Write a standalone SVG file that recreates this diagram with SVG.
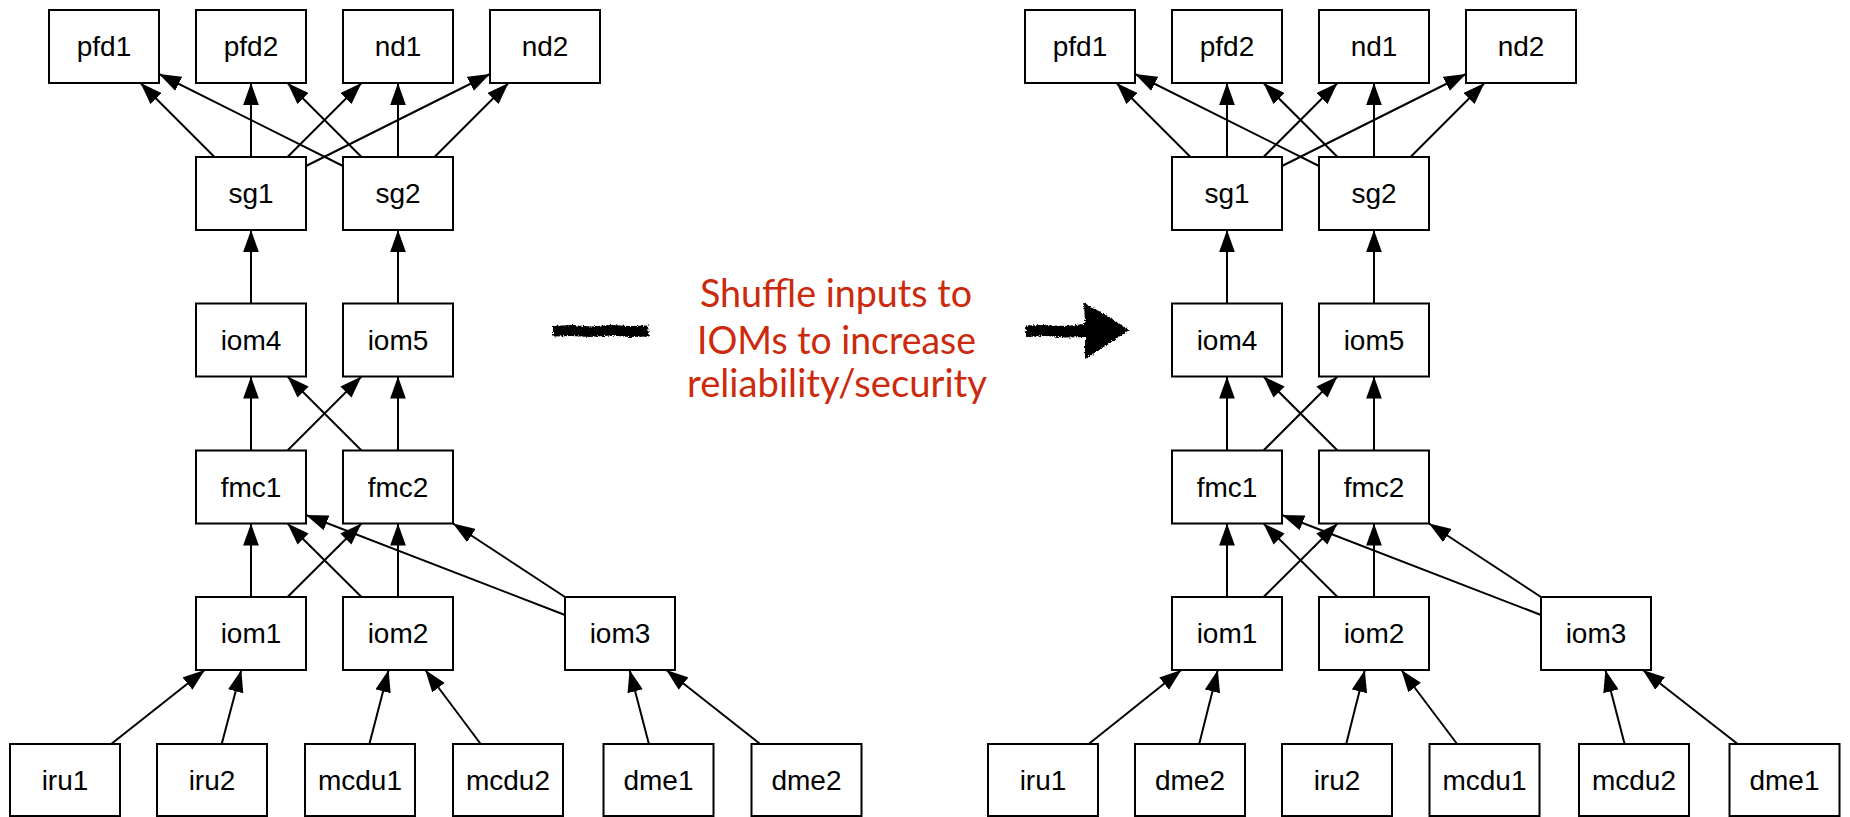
<svg xmlns="http://www.w3.org/2000/svg" width="1850" height="817" viewBox="0 0 1850 817">
<style>
.box{fill:#fff;stroke:#000;stroke-width:2}
.lbl{font-family:"Liberation Sans",Arial,Helvetica,sans-serif;font-size:28px;fill:#000;text-anchor:middle}
.e{stroke:#000;stroke-width:2;fill:none;marker-end:url(#ah)}
.note{font-family:Lato,"Open Sans",sans-serif;font-size:38px;fill:#CC2A0C;text-anchor:middle}
.scr{fill:#000;filter:url(#rough)}
</style>
<defs>
<marker id="ah" markerUnits="userSpaceOnUse" markerWidth="22" markerHeight="16" viewBox="0 0 21 15" refX="21" refY="7.5" orient="auto">
<path d="M0,0 L21,7.5 L0,15 z" fill="#000"/>
</marker>
<filter id="rough" x="-10%" y="-30%" width="120%" height="160%">
<feTurbulence type="fractalNoise" baseFrequency="0.6" numOctaves="2" seed="3" result="n"/>
<feDisplacementMap in="SourceGraphic" in2="n" scale="4" xChannelSelector="R" yChannelSelector="G"/>
</filter>
</defs>
<rect width="1850" height="817" fill="#fff"/>

<g id="connectors">
<!-- left -->
<line class="e" x1="214.5" y1="157" x2="140.5" y2="83"/>
<line class="e" x1="251" y1="157" x2="251" y2="83"/>
<line class="e" x1="287.5" y1="157" x2="361.5" y2="83"/>
<line class="e" x1="306" y1="166" x2="490" y2="74"/>
<line class="e" x1="343" y1="166" x2="159" y2="74"/>
<line class="e" x1="361.5" y1="157" x2="287.5" y2="83"/>
<line class="e" x1="398" y1="157" x2="398" y2="83"/>
<line class="e" x1="434.5" y1="157" x2="508.5" y2="83"/>
<line class="e" x1="251" y1="303.5" x2="251" y2="230"/>
<line class="e" x1="398" y1="303.5" x2="398" y2="230"/>
<line class="e" x1="251" y1="450.5" x2="251" y2="376.5"/>
<line class="e" x1="287.5" y1="450.5" x2="361.5" y2="376.5"/>
<line class="e" x1="361.5" y1="450.5" x2="287.5" y2="376.5"/>
<line class="e" x1="398" y1="450.5" x2="398" y2="376.5"/>
<line class="e" x1="251" y1="597" x2="251" y2="523.5"/>
<line class="e" x1="287.5" y1="597" x2="361.5" y2="523.5"/>
<line class="e" x1="361.5" y1="597" x2="287.5" y2="523.5"/>
<line class="e" x1="398" y1="597" x2="398" y2="523.5"/>
<line class="e" x1="565" y1="615" x2="306" y2="515"/>
<line class="e" x1="565" y1="597" x2="453" y2="523.5"/>
<line class="e" x1="111.2" y1="744" x2="204.8" y2="670"/>
<line class="e" x1="221.7" y1="744" x2="241.3" y2="670"/>
<line class="e" x1="369.4" y1="744" x2="388.6" y2="670"/>
<line class="e" x1="480.7" y1="744" x2="425.3" y2="670"/>
<line class="e" x1="648.9" y1="744" x2="629.6" y2="670"/>
<line class="e" x1="760.2" y1="744" x2="666.3" y2="670"/>
<!-- right -->
<line class="e" x1="1190.5" y1="157" x2="1116.5" y2="83"/>
<line class="e" x1="1227" y1="157" x2="1227" y2="83"/>
<line class="e" x1="1263.5" y1="157" x2="1337.5" y2="83"/>
<line class="e" x1="1282" y1="166" x2="1466" y2="74"/>
<line class="e" x1="1319" y1="166" x2="1135" y2="74"/>
<line class="e" x1="1337.5" y1="157" x2="1263.5" y2="83"/>
<line class="e" x1="1374" y1="157" x2="1374" y2="83"/>
<line class="e" x1="1410.5" y1="157" x2="1484.5" y2="83"/>
<line class="e" x1="1227" y1="303.5" x2="1227" y2="230"/>
<line class="e" x1="1374" y1="303.5" x2="1374" y2="230"/>
<line class="e" x1="1227" y1="450.5" x2="1227" y2="376.5"/>
<line class="e" x1="1263.5" y1="450.5" x2="1337.5" y2="376.5"/>
<line class="e" x1="1337.5" y1="450.5" x2="1263.5" y2="376.5"/>
<line class="e" x1="1374" y1="450.5" x2="1374" y2="376.5"/>
<line class="e" x1="1227" y1="597" x2="1227" y2="523.5"/>
<line class="e" x1="1263.5" y1="597" x2="1337.5" y2="523.5"/>
<line class="e" x1="1337.5" y1="597" x2="1263.5" y2="523.5"/>
<line class="e" x1="1374" y1="597" x2="1374" y2="523.5"/>
<line class="e" x1="1541" y1="615" x2="1282" y2="515"/>
<line class="e" x1="1541" y1="597" x2="1429" y2="523.5"/>
<line class="e" x1="1088.7" y1="744" x2="1181.3" y2="670"/>
<line class="e" x1="1199.2" y1="744" x2="1217.8" y2="670"/>
<line class="e" x1="1346.2" y1="744" x2="1364.8" y2="670"/>
<line class="e" x1="1457.1" y1="744" x2="1401.4" y2="670"/>
<line class="e" x1="1624.6" y1="744" x2="1605.4" y2="670"/>
<line class="e" x1="1737.7" y1="744" x2="1642.8" y2="670"/>
</g>

<!-- left nodes -->
<g id="L_pfd1"><rect class="box" x="49" y="10" width="110" height="73"/><text class="lbl" x="104" y="56">pfd1</text></g>
<g id="L_pfd2"><rect class="box" x="196" y="10" width="110" height="73"/><text class="lbl" x="251" y="56">pfd2</text></g>
<g id="L_nd1"><rect class="box" x="343" y="10" width="110" height="73"/><text class="lbl" x="398" y="56">nd1</text></g>
<g id="L_nd2"><rect class="box" x="490" y="10" width="110" height="73"/><text class="lbl" x="545" y="56">nd2</text></g>
<g id="L_sg1"><rect class="box" x="196" y="157" width="110" height="73"/><text class="lbl" x="251" y="203">sg1</text></g>
<g id="L_sg2"><rect class="box" x="343" y="157" width="110" height="73"/><text class="lbl" x="398" y="203">sg2</text></g>
<g id="L_iom4"><rect class="box" x="196" y="303.5" width="110" height="73"/><text class="lbl" x="251" y="349.5">iom4</text></g>
<g id="L_iom5"><rect class="box" x="343" y="303.5" width="110" height="73"/><text class="lbl" x="398" y="349.5">iom5</text></g>
<g id="L_fmc1"><rect class="box" x="196" y="450.5" width="110" height="73"/><text class="lbl" x="251" y="496.5">fmc1</text></g>
<g id="L_fmc2"><rect class="box" x="343" y="450.5" width="110" height="73"/><text class="lbl" x="398" y="496.5">fmc2</text></g>
<g id="L_iom1"><rect class="box" x="196" y="597" width="110" height="73"/><text class="lbl" x="251" y="643">iom1</text></g>
<g id="L_iom2"><rect class="box" x="343" y="597" width="110" height="73"/><text class="lbl" x="398" y="643">iom2</text></g>
<g id="L_iom3"><rect class="box" x="565" y="597" width="110" height="73"/><text class="lbl" x="620" y="643">iom3</text></g>
<g id="L_iru1"><rect class="box" x="10" y="744" width="110" height="72"/><text class="lbl" x="65" y="790">iru1</text></g>
<g id="L_iru2"><rect class="box" x="157" y="744" width="110" height="72"/><text class="lbl" x="212" y="790">iru2</text></g>
<g id="L_mcdu1"><rect class="box" x="305" y="744" width="110" height="72"/><text class="lbl" x="360" y="790">mcdu1</text></g>
<g id="L_mcdu2"><rect class="box" x="453" y="744" width="110" height="72"/><text class="lbl" x="508" y="790">mcdu2</text></g>
<g id="L_dme1"><rect class="box" x="603.5" y="744" width="110" height="72"/><text class="lbl" x="658.5" y="790">dme1</text></g>
<g id="L_dme2"><rect class="box" x="751.5" y="744" width="110" height="72"/><text class="lbl" x="806.5" y="790">dme2</text></g>

<!-- right nodes -->
<g id="R_pfd1"><rect class="box" x="1025" y="10" width="110" height="73"/><text class="lbl" x="1080" y="56">pfd1</text></g>
<g id="R_pfd2"><rect class="box" x="1172" y="10" width="110" height="73"/><text class="lbl" x="1227" y="56">pfd2</text></g>
<g id="R_nd1"><rect class="box" x="1319" y="10" width="110" height="73"/><text class="lbl" x="1374" y="56">nd1</text></g>
<g id="R_nd2"><rect class="box" x="1466" y="10" width="110" height="73"/><text class="lbl" x="1521" y="56">nd2</text></g>
<g id="R_sg1"><rect class="box" x="1172" y="157" width="110" height="73"/><text class="lbl" x="1227" y="203">sg1</text></g>
<g id="R_sg2"><rect class="box" x="1319" y="157" width="110" height="73"/><text class="lbl" x="1374" y="203">sg2</text></g>
<g id="R_iom4"><rect class="box" x="1172" y="303.5" width="110" height="73"/><text class="lbl" x="1227" y="349.5">iom4</text></g>
<g id="R_iom5"><rect class="box" x="1319" y="303.5" width="110" height="73"/><text class="lbl" x="1374" y="349.5">iom5</text></g>
<g id="R_fmc1"><rect class="box" x="1172" y="450.5" width="110" height="73"/><text class="lbl" x="1227" y="496.5">fmc1</text></g>
<g id="R_fmc2"><rect class="box" x="1319" y="450.5" width="110" height="73"/><text class="lbl" x="1374" y="496.5">fmc2</text></g>
<g id="R_iom1"><rect class="box" x="1172" y="597" width="110" height="73"/><text class="lbl" x="1227" y="643">iom1</text></g>
<g id="R_iom2"><rect class="box" x="1319" y="597" width="110" height="73"/><text class="lbl" x="1374" y="643">iom2</text></g>
<g id="R_iom3"><rect class="box" x="1541" y="597" width="110" height="73"/><text class="lbl" x="1596" y="643">iom3</text></g>
<g id="R_iru1"><rect class="box" x="988" y="744" width="110" height="72"/><text class="lbl" x="1043" y="790">iru1</text></g>
<g id="R_dme2"><rect class="box" x="1135" y="744" width="110" height="72"/><text class="lbl" x="1190" y="790">dme2</text></g>
<g id="R_iru2"><rect class="box" x="1282" y="744" width="110" height="72"/><text class="lbl" x="1337" y="790">iru2</text></g>
<g id="R_mcdu1"><rect class="box" x="1429.5" y="744" width="110" height="72"/><text class="lbl" x="1484.5" y="790">mcdu1</text></g>
<g id="R_mcdu2"><rect class="box" x="1579" y="744" width="110" height="72"/><text class="lbl" x="1634" y="790">mcdu2</text></g>
<g id="R_dme1"><rect class="box" x="1729.5" y="744" width="110" height="72"/><text class="lbl" x="1784.5" y="790">dme1</text></g>

<!-- transition annotation -->
<g id="annotation">
<path class="scr" d="M553,326 L572,325 L591,326.5 L611,325 L630,326 L648,325.5 L649,336.5 L629,337 L611,335.5 L590,337 L571,336 L553,336.5 Z"/>
<path class="scr" d="M1026,325.5 L1045,325 L1066,326 L1085,324 L1084,303 L1108,316 L1129,330 L1107,345 L1085,359 L1085,337 L1066,337.5 L1045,336 L1026,337 Z"/>
<text class="note" x="836" y="306.5" textLength="272" lengthAdjust="spacingAndGlyphs">Shuffle inputs to</text>
<text class="note" x="836.5" y="354" textLength="279" lengthAdjust="spacingAndGlyphs">IOMs to increase</text>
<text class="note" x="837" y="396.5" textLength="300" lengthAdjust="spacingAndGlyphs">reliability/security</text>
</g>
</svg>
